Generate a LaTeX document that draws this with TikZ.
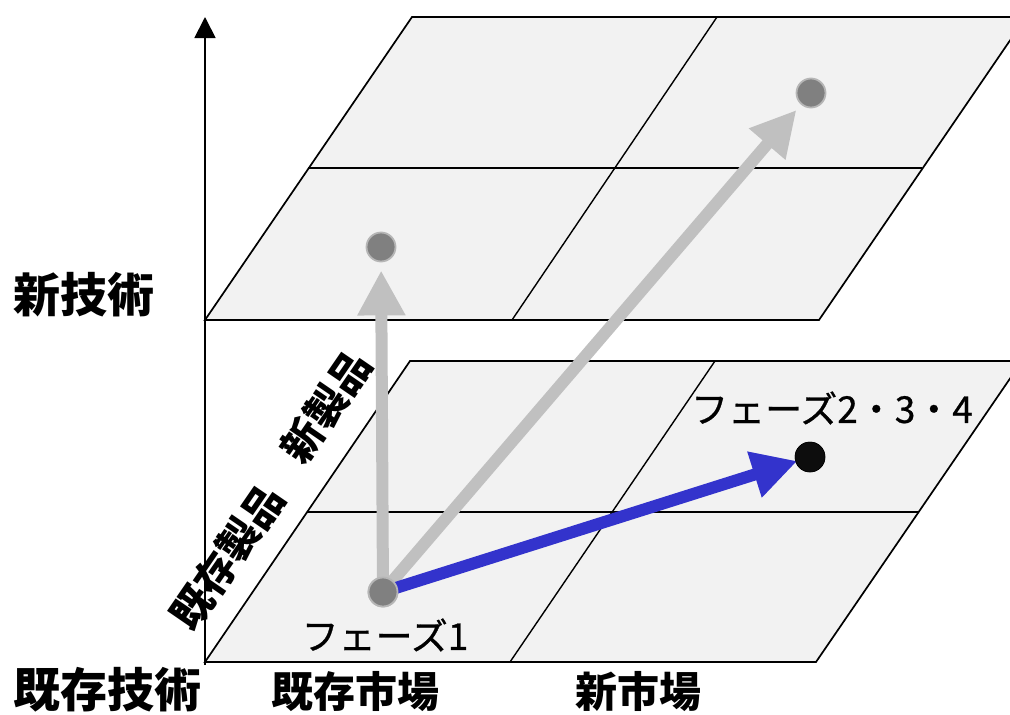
\documentclass[tikz,border=0pt]{standalone}
\usepackage{fontspec}
\newfontfamily\cjk{Noto Sans CJK JP}
\newfontfamily\cjkm[FakeBold=0.7]{Noto Sans CJK JP}
\usetikzlibrary{arrows.meta}
\definecolor{planefill}{RGB}{242,242,242}
\definecolor{dotgray}{RGB}{128,128,128}
\definecolor{dotrim}{RGB}{182,182,182}
\definecolor{arrgray}{RGB}{192,192,192}
\definecolor{arrblue}{RGB}{51,51,204}
\tikzset{
  plane/.style={fill=planefill, draw=black, line width=1.7pt, line join=miter},
  inner/.style={draw=black, line width=1.4pt},
  dotg/.style={circle, fill=dotgray, draw=dotrim, line width=1.8pt, minimum size=29pt, inner sep=0pt},
  dotb/.style={circle, fill=black!95, draw=black, line width=0.5pt, minimum size=30pt, inner sep=0pt},
  bigarrow/.style={line width=12pt, -{Triangle[length=45pt,width=45pt]}},
  axislabel/.style={font=\cjk\bfseries\fontsize{47}{50}\selectfont, inner sep=0pt},
  marketlabel/.style={font=\cjk\bfseries\fontsize{42}{45}\selectfont, inner sep=0pt},
  prodlabel/.style={font=\cjk\bfseries\fontsize{41}{44}\selectfont, inner sep=0pt, rotate=55.5},
  phaselabel/.style={font=\cjkm\fontsize{37}{40}\selectfont, inner sep=0pt}
}
\begin{document}
\begin{tikzpicture}[x=1pt,y=-1pt]
\useasboundingbox (0,0) rectangle (1010,715);
\begin{scope}
\clip (0,0) rectangle (1010,715);
% axis
\coordinate (axb) at (205,665);
\coordinate (axt) at (205,17);
\draw[line width=1.8pt, -{Triangle[length=21pt,width=21pt]}] (axb) -- (axt);
% upper plane
\draw[plane] (205,320) -- (412,17) -- (1026,17) -- (819,320) -- cycle;
\draw[inner] (308,168) -- (922,168);
\draw[inner] (512,320) -- (717,17);
% lower plane
\draw[plane] (205,662) -- (410,361) -- (1022,361) -- (816,662) -- cycle;
\draw[inner] (307,512) -- (919,512);
\draw[inner] (510,662) -- (715,361);
\end{scope}
% dots
\node[dotg] (p1) at (383,592) {};
\node[dotg] (p2) at (381,247) {};
\node[dotg] (p3) at (811,93) {};
\node[dotb] (p4) at (810,457) {};
% arrows
\draw[bigarrow, draw=arrgray, fill=arrgray, shorten >=8pt] (p1.center) -- (p2);
\draw[bigarrow, draw=arrgray, fill=arrgray, shorten >=7pt] (p1.center) -- (p3);
\draw[bigarrow, draw=arrblue, fill=arrblue, shorten >=-2pt] (p1.center) -- (p4);
% redraw dots on top
\node[dotg] at (p1) {};
\node[dotb] at (p4) {};
% labels
\node[axislabel] (newtech) at (84,295) {新技術};
\node[axislabel] (oldtech) at (107,690) {既存技術};
\node[marketlabel] (oldmkt) at (355,692) {既存市場};
\node[marketlabel] (newmkt) at (638,692) {新市場};
\node[prodlabel] (oldprod) at (227,557) {既存製品};
\node[prodlabel] (newprod) at (326,407) {新製品};
\node[phaselabel] (ph1) at (385,635) {フェーズ1};
\node[phaselabel] (ph234) at (832,408) {フェーズ2・3・4};
\end{tikzpicture}
\end{document}
